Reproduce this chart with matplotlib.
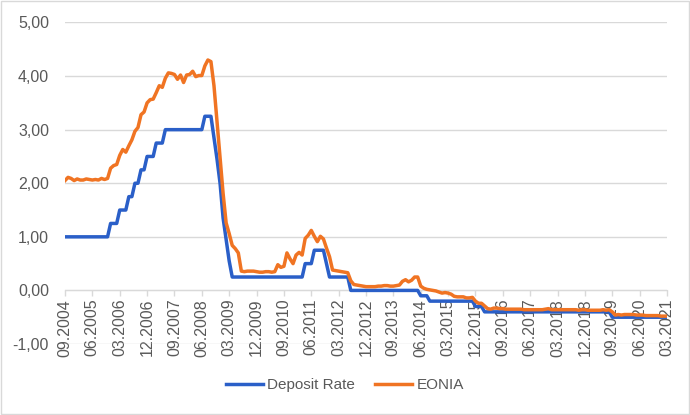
import numpy as np
import matplotlib
matplotlib.use("Agg")
import matplotlib.pyplot as plt
from matplotlib.patches import Rectangle

# monthly values, 09.2004 - 03.2021
deposit_rate = (
    [1.00] * 4 +                                   # 2004 Sep-Dec
    [1.00] * 11 + [1.25] +                         # 2005
    [1.25, 1.25, 1.50, 1.50, 1.50, 1.75, 1.75, 2.00, 2.00, 2.25, 2.25, 2.50] +  # 2006
    [2.50, 2.50, 2.75, 2.75, 2.75] + [3.00] * 7 +  # 2007
    [3.00] * 6 + [3.25, 3.25, 3.25, 2.85, 2.45, 2.00] +  # 2008
    [1.35, 0.95, 0.55] + [0.25] * 9 +              # 2009
    [0.25] * 12 +                                  # 2010
    [0.25, 0.25, 0.25, 0.50, 0.50, 0.50, 0.75, 0.75, 0.75, 0.75, 0.50, 0.25] +  # 2011
    [0.25] * 6 + [0.00] * 6 +                      # 2012
    [0.00] * 12 +                                  # 2013
    [0.00] * 5 + [-0.10] * 3 + [-0.20] * 4 +       # 2014
    [-0.20] * 11 + [-0.30] +                       # 2015
    [-0.30, -0.30] + [-0.40] * 10 +                # 2016
    [-0.40] * 12 +                                 # 2017
    [-0.40] * 12 +                                 # 2018
    [-0.40] * 8 + [-0.50] * 4 +                    # 2019
    [-0.50] * 12 +                                 # 2020
    [-0.50] * 3                                    # 2021 Jan-Mar
)

eonia = (
    [2.05, 2.11, 2.09, 2.05] +
    [2.08, 2.06, 2.06, 2.08, 2.07, 2.06, 2.07, 2.06, 2.09, 2.07, 2.09, 2.28] +
    [2.33, 2.35, 2.52, 2.63, 2.58, 2.70, 2.81, 2.97, 3.04, 3.28, 3.33, 3.50] +
    [3.56, 3.57, 3.69, 3.82, 3.79, 3.96, 4.06, 4.05, 4.03, 3.94, 4.02, 3.88] +
    [4.02, 4.03, 4.09, 3.99, 4.01, 4.01, 4.19, 4.30, 4.27, 3.82, 3.15, 2.49] +
    [1.81, 1.26, 1.06, 0.84, 0.78, 0.70, 0.36, 0.35, 0.36, 0.36, 0.36, 0.35] +
    [0.34, 0.34, 0.35, 0.35, 0.34, 0.35, 0.48, 0.43, 0.45, 0.70, 0.59, 0.50] +
    [0.66, 0.71, 0.66, 0.97, 1.03, 1.12, 1.01, 0.91, 1.01, 0.96, 0.79, 0.63] +
    [0.38, 0.37, 0.36, 0.35, 0.34, 0.33, 0.18, 0.11, 0.10, 0.09, 0.08, 0.07] +
    [0.07, 0.07, 0.07, 0.08, 0.08, 0.09, 0.09, 0.08, 0.08, 0.09, 0.10, 0.17] +
    [0.20, 0.16, 0.19, 0.25, 0.25, 0.08, 0.04, 0.02, 0.01, 0.00, -0.01, -0.03] +
    [-0.05, -0.04, -0.05, -0.07, -0.11, -0.12, -0.12, -0.12, -0.14, -0.14, -0.13, -0.20] +
    [-0.24, -0.24, -0.29, -0.34, -0.35, -0.33, -0.33, -0.34, -0.34, -0.35, -0.35, -0.35] +
    [-0.35, -0.35, -0.35, -0.36, -0.36, -0.36, -0.36, -0.36, -0.36, -0.36, -0.35, -0.34] +
    [-0.36, -0.36, -0.36, -0.36, -0.36, -0.36, -0.36, -0.36, -0.36, -0.37, -0.36, -0.36] +
    [-0.37, -0.37, -0.37, -0.37, -0.37, -0.36, -0.37, -0.36, -0.40, -0.46, -0.45, -0.46] +
    [-0.45, -0.45, -0.45, -0.45, -0.46, -0.46, -0.46, -0.47, -0.47, -0.47, -0.47, -0.47] +
    [-0.48, -0.48, -0.48]
)

x_labels = ['09.2004', '06.2005', '03.2006', '12.2006', '09.2007', '06.2008',
            '03.2009', '12.2009', '09.2010', '06.2011', '03.2012', '12.2012',
            '09.2013', '06.2014', '03.2015', '12.2015', '09.2016', '06.2017',
            '03.2018', '12.2018', '09.2019', '06.2020', '03.2021']
y_ticks = [-1, 0, 1, 2, 3, 4, 5]
y_labels = ['-1,00', '0,00', '1,00', '2,00', '3,00', '4,00', '5,00']

plt.rcParams['font.family'] = ['Liberation Sans', 'DejaVu Sans']
txt = '#595959'
grid = '#d9d9d9'
blue = '#2a5fc8'
orange = '#f07423'

fig = plt.figure(figsize=(6.9, 4.15), dpi=100)
ax = fig.add_axes([65/690, 1-344/415, (667-65)/690, (344-22.5)/415])

# category axis crosses at 0 (set before labels, it resets the ticks)
for s in ['top', 'right', 'left']:
    ax.spines[s].set_visible(False)
ax.spines['bottom'].set_position(('data', 0))
ax.spines['bottom'].set_color(grid)
ax.spines['bottom'].set_zorder(0.5)

t = np.arange(len(eonia))
ax.plot(t, deposit_rate, color=blue, lw=2.5, label='Deposit Rate', solid_joinstyle='round')
ax.plot(t, eonia, color=orange, lw=2.5, label='EONIA', solid_joinstyle='round')

ax.set_xlim(0, len(eonia) - 1)
ax.set_ylim(-1, 5)
ax.set_yticks(y_ticks)
ax.set_yticklabels(y_labels)
ax.set_xticks(np.arange(len(x_labels)) * 9)
ax.set_xticklabels(x_labels)
ax.yaxis.grid(True, color=grid, lw=1)
ax.set_axisbelow(True)

ax.tick_params(axis='x', colors=grid, length=4, width=1, pad=2, labelcolor=txt,
               labelsize=11.5, labelrotation=90)
ax.tick_params(axis='y', length=0, pad=11.5, labelcolor=txt, labelsize=11.5)

fig.legend(loc='center', bbox_to_anchor=(0.5, 1-385/415), ncol=2, frameon=False,
           fontsize=11, handlelength=2.4, columnspacing=1.3, handletextpad=0.3,
           labelcolor=txt)

fig.patches.append(Rectangle((0.002, 0.003), 0.996, 0.994, transform=fig.transFigure,
                             fill=False, edgecolor='#d9d9d9', lw=1))

fig.savefig('out.png', dpi=100)
